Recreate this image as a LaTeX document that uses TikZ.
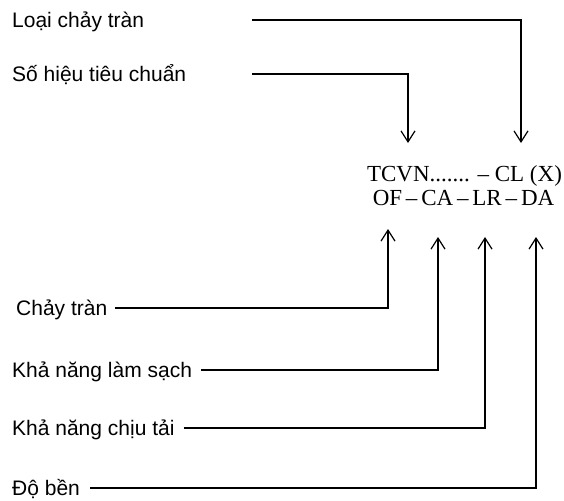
\documentclass[tikz,border=0pt]{standalone}
\usepackage{fontspec}
\setmainfont{Liberation Serif}
\setsansfont{Liberation Sans}
\usetikzlibrary{arrows.meta,positioning,calc}
\tikzset{
    % Left hand label
    labelnode/.style={
        anchor=west,
        inner sep=0pt,
        text height=15pt,
        text depth=0pt,
        font=\sffamily\fontsize{21}{24}\selectfont
    },
    % Code line
    codenode/.style={
        anchor=base,
        inner sep=0pt,
        font=\fontsize{23}{20}\selectfont
    },
    % Leader line with open arrow head
    leader/.style={
        -{Straight Barb[length=11pt,width=14pt]},
        line width=1.2pt,
        draw=black
    }
}
\begin{document}
\begin{tikzpicture}[x=1pt,y=-1pt]
    \useasboundingbox (0,0) rectangle (564,500);

    % labels
    \node[labelnode] (loai) at (12,20) {Loại chảy tràn};
    \node[labelnode] (sohieu) at (12,74) {Số hiệu tiêu chuẩn};
    \node[labelnode] (chaytran) at (16,308) {Chảy tràn};
    \node[labelnode] (lamsach) at (12,370) {Khả năng làm sạch};
    \node[labelnode] (chiutai) at (12,428) {Khả năng chịu tải};
    \node[labelnode] (doben) at (12,488) {Độ bền};

    % code
    \node[codenode] (code1) at (464.5,181) {TCVN....... – CL (X)};
    \node[codenode] (code2) at (463.5,205) {OF\,–\,CA\,–\,LR\,–\,DA};

    % arrow tips and start
    \coordinate (topx) at (252,0);
    \coordinate (tipTC) at (408,143);
    \coordinate (tipCL) at (521,143);
    \coordinate (tipOF) at (388,229);
    \coordinate (tipCA) at (438,237);
    \coordinate (tipLR) at (485,237);
    \coordinate (tipDA) at (536,237);

    \draw[leader] (loai -| topx) -| (tipCL);
    \draw[leader] (sohieu -| topx) -| (tipTC);
    \draw[leader] ([xshift=8pt]chaytran.east) -| (tipOF);
    \draw[leader] ([xshift=9pt]lamsach.east) -| (tipCA);
    \draw[leader] ([xshift=9pt]chiutai.east) -| (tipLR);
    \draw[leader] ([xshift=10pt]doben.east) -| (tipDA);
\end{tikzpicture}
\end{document}
